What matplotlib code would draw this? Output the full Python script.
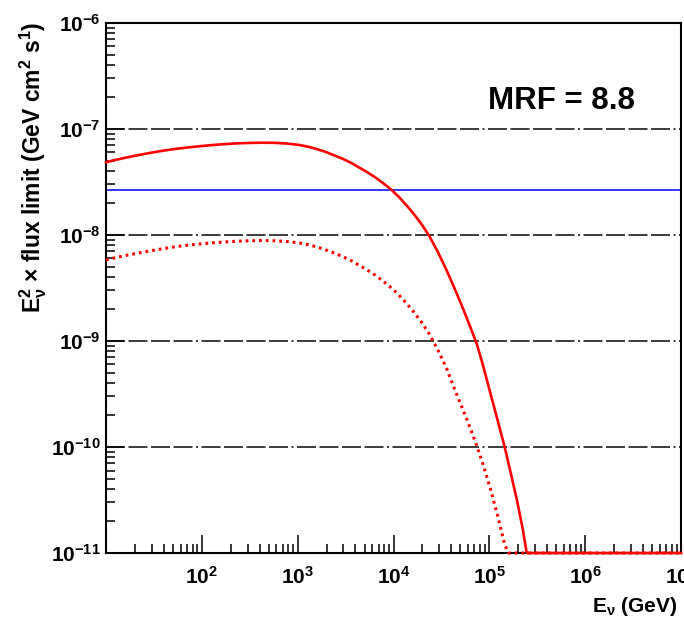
import numpy as np
import matplotlib
matplotlib.use("Agg")
from matplotlib import pyplot as plt
from matplotlib.ticker import FixedLocator, LogLocator, NullFormatter

plt.rcParams['font.family'] = ['Liberation Sans', 'DejaVu Sans']
plt.rcParams['font.weight'] = 'bold'
plt.rcParams['mathtext.fontset'] = 'custom'
plt.rcParams['mathtext.rm'] = 'Liberation Sans:bold'
plt.rcParams['mathtext.it'] = 'Liberation Sans:bold'
plt.rcParams['mathtext.bf'] = 'Liberation Sans:bold'
plt.rcParams['mathtext.default'] = 'rm'

# curves, as log10(E/GeV) and log10(E^2 x flux limit)
log_e_solid = [1.00, 1.10, 1.20, 1.33, 1.46, 1.59, 1.72, 1.85, 1.98, 2.11, 2.24,
               2.37, 2.50, 2.63, 2.76, 2.89, 3.02, 3.11, 3.20, 3.29, 3.37, 3.46,
               3.55, 3.63, 3.72, 3.81, 3.89, 3.98, 4.06, 4.14, 4.21, 4.29, 4.37,
               4.46, 4.55, 4.64, 4.73, 4.80, 4.87, 4.94, 5.01, 5.09, 5.16, 5.23,
               5.29, 5.35, 5.39, 7.00]
log_f_solid = [-7.314, -7.292, -7.272, -7.248, -7.226, -7.206, -7.189, -7.175,
               -7.163, -7.152, -7.143, -7.136, -7.132, -7.130, -7.131, -7.138,
               -7.152, -7.168, -7.190, -7.216, -7.245, -7.278, -7.316, -7.358,
               -7.405, -7.457, -7.510, -7.575, -7.645, -7.725, -7.800, -7.895,
               -8.005, -8.155, -8.325, -8.510, -8.705, -8.865, -9.030, -9.250,
               -9.490, -9.760, -10.00, -10.27, -10.51, -10.78, -11.0, -11.0]

log_e_dot = [1.00, 1.10, 1.20, 1.33, 1.46, 1.59, 1.72, 1.85, 1.98, 2.11, 2.24,
             2.37, 2.50, 2.63, 2.76, 2.89, 3.02, 3.11, 3.20, 3.29, 3.37, 3.46,
             3.55, 3.63, 3.72, 3.81, 3.89, 3.98, 4.06, 4.14, 4.21, 4.29, 4.37,
             4.46, 4.55, 4.64, 4.73, 4.80, 4.87, 4.94, 5.01, 5.09, 5.16, 5.20,
             7.00]
log_f_dot = [-8.236, -8.214, -8.194, -8.172, -8.150, -8.130, -8.112, -8.097,
             -8.085, -8.074, -8.066, -8.059, -8.055, -8.053, -8.055, -8.062,
             -8.076, -8.092, -8.113, -8.140, -8.167, -8.200, -8.238, -8.280,
             -8.327, -8.380, -8.435, -8.500, -8.570, -8.650, -8.725, -8.820,
             -8.930, -9.080, -9.250, -9.460, -9.660, -9.820, -9.990, -10.18,
             -10.39, -10.66, -10.92, -11.0, -11.0]

blue_level = 2.66e-8

xticks = [1e2, 1e3, 1e4, 1e5, 1e6, 1e7]
xticklabels = [r'$10^{2}$', r'$10^{3}$', r'$10^{4}$', r'$10^{5}$', r'$10^{6}$', r'$10^{7}$']
yticks = [1e-11, 1e-10, 1e-9, 1e-8, 1e-7, 1e-6]
yticklabels = [r'$10^{-11}$', r'$10^{-10}$', r'$10^{-9}$', r'$10^{-8}$', r'$10^{-7}$', r'$10^{-6}$']

e_solid = 10 ** np.array(log_e_solid)
f_solid = 10 ** np.array(log_f_solid)
e_dot = 10 ** np.array(log_e_dot)
f_dot = 10 ** np.array(log_f_dot)

fig = plt.figure(figsize=(6.84, 6.19), dpi=100)
ax = fig.add_axes([0.155, 0.1066, 0.8406, 0.8564])

ax.set_xscale('log')
ax.set_yscale('log')
ax.set_xlim(10, 1e7)
ax.set_ylim(1e-11, 1e-6)

# dash-dot grid at the y decades
grid_dash = (0, (11.4, 2.1, 11.4, 2.1, 11.4, 2.1, 11.4, 2.1, 1.2, 2.1))
for yv in yticks[1:-1]:
    ax.axhline(yv, color='#1a1a1a', lw=1.2, linestyle=grid_dash, zorder=1)

ax.axhline(blue_level, color='#0000ff', lw=1.1, zorder=2)
ax.plot(e_dot, f_dot, color='#ff0000', lw=2.2, linestyle=(0, (0.9, 1.3)),
        zorder=3, clip_on=False)
ax.plot(e_solid, f_solid, color='#ff0000', lw=1.9, zorder=4, clip_on=False)

ax.xaxis.set_major_locator(FixedLocator(xticks))
ax.set_xticklabels(xticklabels)
ax.xaxis.set_minor_locator(LogLocator(base=10, subs=np.arange(2, 10), numticks=20))
ax.xaxis.set_minor_formatter(NullFormatter())
ax.yaxis.set_major_locator(FixedLocator(yticks))
ax.set_yticklabels(yticklabels)
ax.yaxis.set_minor_locator(LogLocator(base=10, subs=np.arange(2, 10), numticks=20))
ax.yaxis.set_minor_formatter(NullFormatter())

ax.tick_params(which='both', direction='in', top=False, right=False,
               width=1.1, labelsize=15)
ax.tick_params(which='major', length=13)
ax.tick_params(which='minor', length=6.5)
ax.tick_params(axis='x', which='major', pad=9)
ax.tick_params(axis='y', which='major', pad=4)
for sp in ax.spines.values():
    sp.set_linewidth(1.5)

ax.text(0.793, 0.853, 'MRF = 8.8', transform=ax.transAxes, fontsize=22.5,
        fontweight='bold', va='center', ha='center')

fig.text(0.99, 0.012, r'E$_{\nu}$ (GeV)', ha='right', va='baseline', fontsize=15)
fig.text(0.049, 0.965, r'E$^{2}_{\nu}$ × flux limit (GeV cm$^{2}$ s$^{1}$)',
         rotation=90, ha='center', va='top', fontsize=16.5)

fig.savefig('out.png', dpi=100)
